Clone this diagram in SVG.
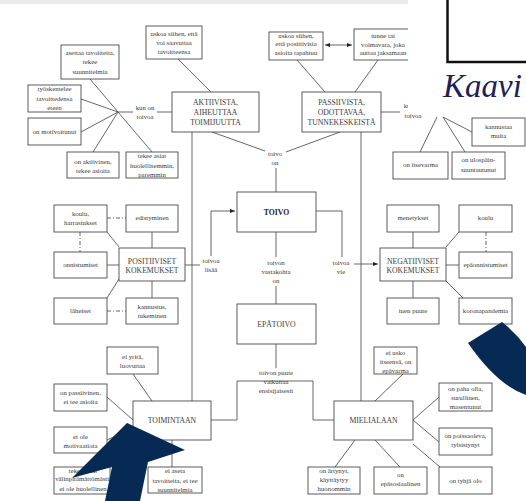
<svg xmlns="http://www.w3.org/2000/svg" width="526" height="501" viewBox="0 0 526 501">
<defs>
<style>
.b{fill:#fff;stroke:#4a4a4a;stroke-width:0.9}
.l{stroke:#555;stroke-width:0.9;fill:none}
.d{stroke:#555;stroke-width:0.9;fill:none;stroke-dasharray:4 2 1 2}
.s{font-family:'Liberation Serif','DejaVu Serif',serif;font-size:6.8px;fill:#3a3a3a;text-anchor:middle}
.m{font-size:7.7px}
.bold{font-weight:bold;fill:#222}
.k{font-family:'Liberation Serif','DejaVu Serif',serif;font-style:italic;font-size:33px;fill:#1d2057}
</style>
<marker id="ah" viewBox="0 0 10 10" refX="10" refY="5" markerWidth="6" markerHeight="6" orient="auto-start-reverse">
<path d="M0,1 L10,5 L0,9 z" fill="#222"/>
</marker>
</defs>
<rect width="526" height="501" fill="#fff"/>
<rect x="0" y="0" width="408" height="4" fill="#ebebeb"/>

<g id="connectors">
<path class="l" d="M118,112 L90,79 M118,112 L81,99 M118,112 L81,132 M118,112 L93,152 M118,112 L152,152 M118,112 L133,112 M157,112 L172,112"/>
<path class="l" d="M178,59 L211,92 M212,132 L265,151 M192,132 L192,401"/>
<path class="l" d="M297,60 L325,92 M378,60 L355,92 M381,112 L400,112 M340,132 L286,152 M276,168 L276,192 M361,132 L361,401"/>
<path class="l" d="M325,45 L352,45" marker-start="url(#ah)" marker-end="url(#ah)"/>
<path class="l" d="M276,232 L276,257 M276,286 L276,304"/>
<path class="l" d="M211,256 L211,211 L235,211" marker-end="url(#ah)"/>
<path class="l" d="M185,265 L200,265 M316,211 L342,211 L342,257"/>
<path class="l" d="M354,264 L378,264" marker-end="url(#ah)"/>
<path class="l" d="M107,232 L119,247 M152,232 L152,248 M107,265 L119,265 M107,298 L119,279 M152,298 L152,281"/>
<path class="d" d="M107,218 L126,218 M80,232 L80,252 M107,311 L126,311"/>
<path class="l" d="M413,232 L413,248 M459,232 L446,247 M446,265 L459,265 M446,281 L463,298 M413,298 L413,281"/>
<path class="d" d="M486,232 L486,252"/>
<path class="l" d="M276,344 L276,368 M237,381 L313,381 M237,381 L237,420 L211,420 M313,381 L313,420 L334,420"/>
<path class="l" d="M133,374 L152,401 M107,397 L133,420 M107,440 L133,428 M100,467 L140,440 M172,440 L172,467"/>
<path class="l" d="M403,374 L375,401 M413,420 L439,397 M413,420 L439,442 M413,444 L440,467 M355,440 L335,467 M375,440 L400,467"/>
<path class="l" d="M437,117 L420,152 M443,117 L465,152 M443,117 L472,132"/>
</g>

<g id="n-asettaa"><rect class="b" x="61" y="45" width="58" height="34"/><text class="s"><tspan x="90" y="55.4">asettaa tavoitteita,</tspan><tspan x="90" y="64.4">tekee</tspan><tspan x="90" y="74.4">suunnitelmia</tspan></text></g>
<g id="n-tyoskentelee"><rect class="b" x="28" y="85" width="53" height="27"/><text class="s"><tspan x="54.5" y="91.4">työskentelee</tspan><tspan x="54.5" y="101.4">tavoittedensa</tspan><tspan x="54.5" y="110.4">eteen</tspan></text></g>
<g id="n-motivoitunut"><rect class="b" x="28" y="118" width="53" height="27"/><text class="s" x="54.5" y="134">on motivoitunut</text></g>
<g id="n-aktiivinen"><rect class="b" x="67" y="152" width="52" height="26"/><text class="s"><tspan x="93" y="164.4">on aktiivinen,</tspan><tspan x="93" y="173.4">tekee asioita</tspan></text></g>
<g id="n-huolellisemmin"><rect class="b" x="126" y="152" width="52" height="26"/><text class="s"><tspan x="152" y="158.4">tekee asiat</tspan><tspan x="152" y="168.4">huolellisemmin,</tspan><tspan x="152" y="177.4">paremmin</tspan></text></g>
<g id="n-kunon1"><text class="s"><tspan x="145" y="110.4">kun on</tspan><tspan x="145" y="119.4">toivoa</tspan></text></g>
<g id="n-uskoa1"><rect class="b" x="146" y="26" width="56" height="33"/><text class="s"><tspan x="174" y="36.4">uskoa siihen, että</tspan><tspan x="174" y="45.4">voi saavuttaa</tspan><tspan x="174" y="54.4">tavoitteensa</tspan></text></g>
<g id="n-aktiivista"><rect class="b" x="172" y="92" width="87" height="40"/><text class="s m"><tspan x="215.5" y="104.7">AKTIIVISTA,</tspan><tspan x="215.5" y="114.7">AIHEUTTAA</tspan><tspan x="215.5" y="124.7">TOIMIJUUTTA</tspan></text></g>

<g id="n-uskoa2"><rect class="b" x="269" y="32" width="54" height="28"/><text class="s"><tspan x="296" y="38.4">uskoa siihen,</tspan><tspan x="296" y="46.4">että positiivisia</tspan><tspan x="296" y="55.4">asioita tapahtuu</tspan></text></g>
<g id="n-tunne"><rect class="b" x="354" y="29" width="58" height="31"/><text class="s"><tspan x="383" y="38.4">tunne tai</tspan><tspan x="383" y="47.4">voimavara, joka</tspan><tspan x="383" y="55.4">auttaa jaksamaan</tspan></text></g>
<g id="n-passiivista"><rect class="b" x="302" y="92" width="79" height="40"/><text class="s m"><tspan x="341.5" y="104.7">PASSIIVISTA,</tspan><tspan x="341.5" y="114.7">ODOTTAVAA,</tspan><tspan x="341.5" y="124.7">TUNNEKESKEISTÄ</tspan></text></g>
<g id="n-kunon2"><text class="s"><tspan x="413" y="108.4">kun on</tspan><tspan x="413" y="118.4">toivoa</tspan></text></g>
<g id="n-toivoon"><text class="s"><tspan x="275" y="156.4">toivo</tspan><tspan x="275" y="165.4">on</tspan></text></g>
<g id="n-itsevarma"><rect class="b" x="393" y="152" width="55" height="27"/><text class="s" x="420.5" y="167.4">on itsevarma</text></g>
<g id="n-ulospain"><rect class="b" x="452" y="152" width="53" height="27"/><text class="s"><tspan x="478.5" y="162.4">on ulospäin-</tspan><tspan x="478.5" y="172.4">suuntautunut</tspan></text></g>
<g id="n-kannustaa"><rect class="b" x="472" y="118" width="53" height="28"/><text class="s"><tspan x="498.5" y="129.4">kannustaa</tspan><tspan x="498.5" y="138.4">muita</tspan></text></g>

<g id="n-koulu1"><rect class="b" x="54" y="205" width="53" height="27"/><text class="s"><tspan x="80.5" y="216.4">koulu,</tspan><tspan x="80.5" y="225.4">harrastukset</tspan></text></g>
<g id="n-edistyminen"><rect class="b" x="126" y="205" width="52" height="27"/><text class="s" x="152" y="220.4">edistyminen</text></g>
<g id="n-onnistumiset"><rect class="b" x="54" y="252" width="53" height="26"/><text class="s" x="80.5" y="267.4">onnistumiset</text></g>
<g id="n-positiiviset"><rect class="b" x="119" y="248" width="66" height="33"/><text class="s m"><tspan x="152" y="263.7">POSITIIVISET</tspan><tspan x="152" y="273.2">KOKEMUKSET</tspan></text></g>
<g id="n-laheiset"><rect class="b" x="54" y="298" width="53" height="26"/><text class="s" x="80.5" y="313.4">läheiset</text></g>
<g id="n-kannustus"><rect class="b" x="126" y="298" width="52" height="26"/><text class="s"><tspan x="152" y="309.4">kannustus,</tspan><tspan x="152" y="318.4">tukeminen</tspan></text></g>
<g id="n-lisaa"><text class="s"><tspan x="211" y="263.4">toivoa</tspan><tspan x="211" y="272.4">lisää</tspan></text></g>
<g id="n-toivo"><rect class="b" x="237" y="192" width="79" height="40"/><text class="s m bold" x="276.5" y="214.7">TOIVO</text></g>
<g id="n-vastakohta"><text class="s"><tspan x="276" y="265.4">toivon</tspan><tspan x="276" y="274.4">vastakohta</tspan><tspan x="276" y="283.4">on</tspan></text></g>
<g id="n-vie"><text class="s"><tspan x="341" y="265.4">toivoa</tspan><tspan x="341" y="274.4">vie</tspan></text></g>
<g id="n-epatoivo"><rect class="b" x="237" y="304" width="79" height="40"/><text class="s m" x="276.5" y="326.7">EPÄTOIVO</text></g>
<g id="n-negatiiviset"><rect class="b" x="380" y="248" width="66" height="33"/><text class="s m"><tspan x="413" y="263.7">NEGATIIVISET</tspan><tspan x="413" y="273.2">KOKEMUKSET</tspan></text></g>
<g id="n-menetykset"><rect class="b" x="387" y="205" width="52" height="27"/><text class="s" x="413" y="220.4">menetykset</text></g>
<g id="n-koulu2"><rect class="b" x="459" y="205" width="53" height="27"/><text class="s" x="485.5" y="220.4">koulu</text></g>
<g id="n-epaonnistumiset"><rect class="b" x="459" y="252" width="53" height="26"/><text class="s" x="485.5" y="267.4">epäonnistumiset</text></g>
<g id="n-tuenpuute"><rect class="b" x="387" y="298" width="52" height="26"/><text class="s" x="413" y="313.4">tuen puute</text></g>
<g id="n-korona"><rect class="b" x="459" y="298" width="53" height="26"/><text class="s" x="485.5" y="313.4">koronapandemia</text></g>

<g id="n-puute"><text class="s"><tspan x="276" y="375.4">toivon puute</tspan><tspan x="276" y="384.4">vaikuttaa</tspan><tspan x="276" y="393.4">ensisijaisesti</tspan></text></g>
<g id="n-yrita"><rect class="b" x="107" y="347" width="51" height="27"/><text class="s"><tspan x="132.5" y="359.4">ei yritä,</tspan><tspan x="132.5" y="368.4">luovuttaa</tspan></text></g>
<g id="n-passiivinen"><rect class="b" x="54" y="384" width="53" height="27"/><text class="s"><tspan x="80.5" y="395.4">on passiivinen,</tspan><tspan x="80.5" y="404.4">ei tee asioita</tspan></text></g>
<g id="n-motivaatiota"><rect class="b" x="54" y="427" width="53" height="26"/><text class="s"><tspan x="80.5" y="439.4">ei ole</tspan><tspan x="80.5" y="448.4">motivaatiota</tspan></text></g>
<g id="n-valinpitamaton"><rect class="b" x="54" y="467" width="56" height="27"/><text class="s"><tspan x="83" y="473.4">tekee asiat</tspan><tspan x="83" y="481.4">välinpitämättömästi,</tspan><tspan x="83" y="491.4">ei ole huolellinen</tspan></text></g>
<g id="n-toimintaan"><rect class="b" x="133" y="401" width="78" height="39"/><text class="s m" x="172" y="423.2">TOIMINTAAN</text></g>
<g id="n-eiaseta"><rect class="b" x="148" y="467" width="54" height="26"/><text class="s"><tspan x="175" y="473.4">ei aseta</tspan><tspan x="175" y="483.4">tavoitteita, ei tee</tspan><tspan x="175" y="492.4">suunnitelmia</tspan></text></g>
<g id="n-eiusko"><rect class="b" x="374" y="347" width="43" height="27"/><text class="s"><tspan x="395.5" y="355.4">ei usko</tspan><tspan x="395.5" y="364.4">itseensä, on</tspan><tspan x="395.5" y="373.4">epävarma</tspan></text></g>
<g id="n-mielialaan"><rect class="b" x="334" y="401" width="79" height="39"/><text class="s m" x="373.5" y="423.2">MIELIALAAN</text></g>
<g id="n-pahaolla"><rect class="b" x="439" y="383" width="53" height="28"/><text class="s"><tspan x="465.5" y="391.4">on paha olla,</tspan><tspan x="465.5" y="400.4">surullinen,</tspan><tspan x="465.5" y="409.4">masentunut</tspan></text></g>
<g id="n-poissaoleva"><rect class="b" x="439" y="428" width="53" height="27"/><text class="s"><tspan x="465.5" y="438.4">on poissaoleva,</tspan><tspan x="465.5" y="447.4">tylsistynyt</tspan></text></g>
<g id="n-tyhja"><rect class="b" x="439" y="467" width="53" height="27"/><text class="s" x="465.5" y="482.9">on tyhjä olo</text></g>
<g id="n-artynyt"><rect class="b" x="308" y="467" width="52" height="27"/><text class="s"><tspan x="334" y="473.4">on ärtynyt,</tspan><tspan x="334" y="482.4">käyttäytyy</tspan><tspan x="334" y="491.4">huonommin</tspan></text></g>
<g id="n-epasosiaalinen"><rect class="b" x="374" y="467" width="53" height="27"/><text class="s"><tspan x="400.5" y="477.4">on</tspan><tspan x="400.5" y="486.4">epäsosiaalinen</tspan></text></g>

<g id="overlay-top-right">
<rect x="408" y="0" width="118" height="111" fill="#fff"/>
<rect x="449.5" y="-6" width="90" height="68" fill="none" stroke="#9a9a9a" stroke-width="1"/>
<rect x="447.5" y="-6" width="90" height="68" fill="#fff" stroke="#111" stroke-width="2.5"/>
<text class="k" x="443" y="97">Kaavi</text>
</g>
<g id="overlay-shapes" fill="#072a55">
<polygon points="127,423 185,450 148,462 140,501 105,501 112,467 72,478"/>
<path d="M468,343 L502,322 Q516,333 526,347 L526,395 Q497,385 468,343 Z"/>
</g>
</svg>
